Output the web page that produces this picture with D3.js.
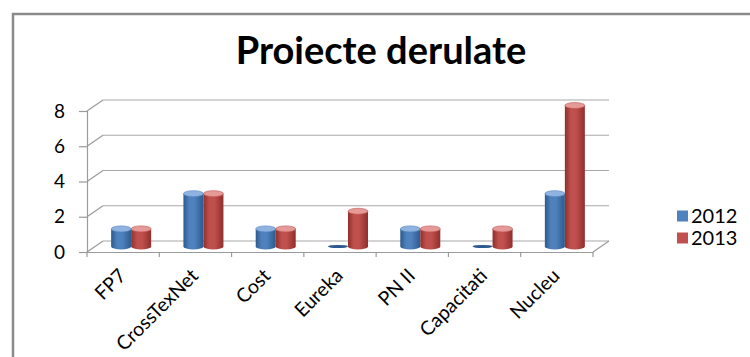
<!DOCTYPE html>
<html><head><meta charset="utf-8">
<script src="https://cdn.jsdelivr.net/npm/d3@7"></script>
<style>html,body{margin:0;padding:0;background:#fff;}svg{display:block;}</style>
</head><body>
<script>
const categories = ["FP7","CrossTexNet","Cost","Eureka","PN II","Capacitati","Nucleu"];
const seriesNames = ["2012","2013"];
const values2012 = [1,3,1,0,1,0,3];
const values2013 = [1,3,1,2,1,1,8];
const yTicks = [0,2,4,6,8];
const title = "Proiecte derulate";

const W = 750, H = 357;
const colors = {"2012":"#4F81BD","2013":"#C0504D"};
const dark = {"2012":"#2c5a8f","2013":"#8f2f2c"};
const light = {"2012":"#8fb3e0","2013":"#e59a97"};
const series = [values2012, values2013];
const FONT = "Lato, 'Open Sans', sans-serif";

const svg = d3.select("body").append("svg").attr("width",W).attr("height",H);
const defs = svg.append("defs");
seriesNames.forEach(s=>{
  const g = defs.append("linearGradient").attr("id","g"+s).attr("x1","0").attr("x2","1").attr("y1","0").attr("y2","0");
  g.append("stop").attr("offset","0").attr("stop-color",dark[s]);
  g.append("stop").attr("offset","0.3").attr("stop-color",colors[s]);
  g.append("stop").attr("offset","0.55").attr("stop-color",colors[s]);
  g.append("stop").attr("offset","1").attr("stop-color",dark[s]);
});

// frame
svg.append("path").attr("d",`M13,${H}V14H${W}`).attr("fill","none").attr("stroke","#8a8a8a").attr("stroke-width",2.5);

// title
svg.append("text").attr("x",381).attr("y",64).attr("text-anchor","middle")
  .attr("font-family",FONT).attr("font-weight","bold").attr("font-size",38).attr("fill","#000").text(title);

const DX = 16, DY = -11;
const x = d3.scaleBand().domain(categories).range([87,593]).padding(0);
const y = d3.scaleLinear().domain([0,8]).range([252,111]);
const axisCol = "#9a9a9a";

const grid = svg.append("g");
yTicks.forEach(t=>{
  grid.append("line").attr("x1",87+DX).attr("x2",593+DX).attr("y1",y(t)+DY).attr("y2",y(t)+DY).attr("stroke","#a8a8a8").attr("stroke-width",1.2);
  grid.append("line").attr("x1",87).attr("x2",87+DX).attr("y1",y(t)).attr("y2",y(t)+DY).attr("stroke",axisCol).attr("stroke-width",1.2);
});
// left axis
const yAxis = d3.axisLeft(y).tickValues(yTicks).tickSize(8).tickPadding(14).tickFormat(d3.format("d"));
const ya = svg.append("g").attr("transform","translate(87,0)").call(yAxis);
ya.select(".domain").attr("stroke",axisCol).attr("stroke-width",1.2);
ya.selectAll(".tick line").attr("stroke",axisCol).attr("stroke-width",1.2);
ya.selectAll("text").attr("font-family",FONT).attr("font-size",19).attr("fill","#000");

// floor front + right
svg.append("line").attr("x1",593).attr("x2",593+DX).attr("y1",252).attr("y2",252+DY).attr("stroke",axisCol).attr("stroke-width",1.2);
const xAxis = d3.axisBottom(x).tickSize(0).tickFormat("");
const xa = svg.append("g").attr("transform","translate(0,252)").call(xAxis);
xa.select(".domain").attr("stroke",axisCol).attr("stroke-width",1.2);
const bounds = categories.map(c=>x(c)).concat([593]);
bounds.forEach(b=>{
  svg.append("line").attr("x1",b).attr("x2",b).attr("y1",252).attr("y2",257).attr("stroke",axisCol).attr("stroke-width",1.2);
});
// x labels
categories.forEach(c=>{
  const cx = x(c)+x.bandwidth()/2 + 4;
  svg.append("text").attr("transform",`translate(${cx},277) rotate(-45)`).attr("text-anchor","end")
    .attr("font-family",FONT).attr("font-size",19.5).attr("fill","#000").text(c);
});

// bars (cylinders) at mid depth
const bw = 20, ry = 3;
const bars = svg.append("g");
categories.forEach((c,i)=>{
  const cx = x(c)+x.bandwidth()/2 + DX/2;
  series.forEach((vals,si)=>{
    const s = seriesNames[si];
    const left = si===0 ? cx-bw : cx;
    const v = vals[i];
    const yb = y(0)+DY/2, yt = y(v)+DY/2;
    const rx = bw/2, mx = left+rx;
    if (v===0){
      bars.append("ellipse").attr("cx",mx).attr("cy",yb).attr("rx",rx).attr("ry",1.6).attr("fill",dark[s]);
      return;
    }
    bars.append("path").attr("d",`M${left},${yt}V${yb}A${rx},${ry} 0 0 0 ${left+bw},${yb}V${yt}Z`).attr("fill",`url(#g${s})`);
    bars.append("ellipse").attr("cx",mx).attr("cy",yt).attr("rx",rx).attr("ry",ry).attr("fill",light[s]).attr("stroke",colors[s]).attr("stroke-width",0.6);
  });
});

// legend
seriesNames.forEach((s,i)=>{
  const ly = 216 + i*22;
  svg.append("rect").attr("x",677).attr("y",ly-5.5).attr("width",11).attr("height",11).attr("fill",colors[s]);
  svg.append("text").attr("x",691).attr("y",ly).attr("dy","0.35em").attr("font-family",FONT).attr("font-size",20).attr("fill","#000").text(s);
});
</script>
</body></html>
